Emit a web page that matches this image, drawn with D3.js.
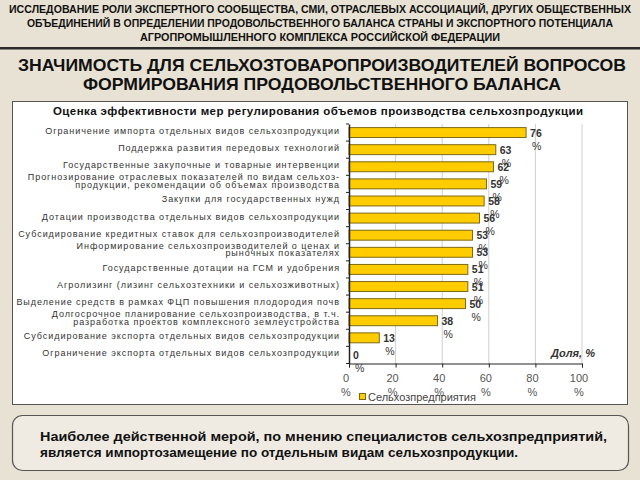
<!DOCTYPE html>
<html>
<head>
<meta charset="utf-8">
<script src="https://cdn.jsdelivr.net/npm/d3@7"></script>
<style>
  body { margin: 0; background: #e7e0d1; }
  svg { display: block; font-family: "Liberation Sans", Arial, sans-serif; }
</style>
</head>
<body>
<div id="chart"></div>
<script>
// chart data
var categories = [
  "Ограничение импорта отдельных видов сельхозпродукции",
  "Поддержка развития передовых технологий",
  "Государственные закупочные и товарные интервенции",
  "Прогнозирование отраслевых показателей по видам сельхоз-\nпродукции, рекомендации об объемах производства",
  "Закупки для государственных нужд",
  "Дотации производства отдельных видов сельхозпродукции",
  "Субсидирование кредитных ставок для сельхозпроизводителей",
  "Информирование сельхозпроизводителей о ценах и\nрыночных показателях",
  "Государственные дотации на ГСМ и удобрения",
  "Агролизинг (лизинг сельхозтехники и сельхозживотных)",
  "Выделение средств в рамках ФЦП повышения плодородия почв",
  "Долгосрочное планирование сельхозпроизводства, в т.ч.\nразработка проектов комплексного землеустройства",
  "Субсидирование экспорта отдельных видов сельхозпродукции",
  "Ограничение экспорта отдельных видов сельхозпродукции"
];
var values = [76, 63, 62, 59, 58, 56, 53, 53, 51, 51, 50, 38, 13, 0];
var xTicks = [0, 20, 40, 60, 80, 100];

var headerLines = [
  "ИССЛЕДОВАНИЕ РОЛИ ЭКСПЕРТНОГО СООБЩЕСТВА, СМИ, ОТРАСЛЕВЫХ АССОЦИАЦИЙ, ДРУГИХ ОБЩЕСТВЕННЫХ",
  "ОБЪЕДИНЕНИЙ В ОПРЕДЕЛЕНИИ ПРОДОВОЛЬСТВЕННОГО БАЛАНСА СТРАНЫ И ЭКСПОРТНОГО ПОТЕНЦИАЛА",
  "АГРОПРОМЫШЛЕННОГО КОМПЛЕКСА РОССИЙСКОЙ ФЕДЕРАЦИИ"
];
var titleLines = [
  "ЗНАЧИМОСТЬ ДЛЯ СЕЛЬХОЗТОВАРОПРОИЗВОДИТЕЛЕЙ ВОПРОСОВ",
  "ФОРМИРОВАНИЯ ПРОДОВОЛЬСТВЕННОГО БАЛАНСА"
];
var chartTitle = "Оценка эффективности мер регулирования объемов  производства сельхозпродукции";
var seriesName = "Сельхозпредприятия";
var axisName = "Доля, %";
var conclusion = [
  "Наиболее действенной мерой, по мнению специалистов сельхозпредприятий,",
  "является импортозамещение по отдельным видам сельхозпродукции."
];

var width = 640, height = 480;

var svg = d3.select("#chart").append("svg")
  .attr("width", width)
  .attr("height", height);

// background
svg.append("rect").attr("width", width).attr("height", height).attr("fill", "#e8e2d4");

// header block
var headerW = [622, 586, 360];
svg.selectAll(".hdr")
  .data(headerLines)
  .enter().append("text")
  .attr("class", "hdr")
  .attr("x", 320)
  .attr("y", function (d, i) { return 13 + i * 14; })
  .attr("text-anchor", "middle")
  .attr("font-size", 10.5)
  .attr("font-weight", "bold")
  .attr("fill", "#111")
  .attr("textLength", function (d, i) { return headerW[i]; })
  .attr("lengthAdjust", "spacingAndGlyphs")
  .text(function (d) { return d; });

svg.append("rect").attr("x", 0).attr("y", 47).attr("width", width).attr("height", 2.5).attr("fill", "#2b2b2b");

// slide title
var titleW = [608, 478];
svg.selectAll(".ttl")
  .data(titleLines)
  .enter().append("text")
  .attr("class", "ttl")
  .attr("x", 322)
  .attr("y", function (d, i) { return 71 + i * 19; })
  .attr("text-anchor", "middle")
  .attr("font-size", 17)
  .attr("font-weight", "bold")
  .attr("fill", "#111")
  .attr("textLength", function (d, i) { return titleW[i]; })
  .attr("lengthAdjust", "spacingAndGlyphs")
  .text(function (d) { return d; });

// white chart box
svg.append("rect")
  .attr("x", 12.5).attr("y", 101.5)
  .attr("width", 615).attr("height", 303)
  .attr("fill", "#fff")
  .attr("stroke", "#555").attr("stroke-width", 1);

svg.append("text")
  .attr("x", 318).attr("y", 114.5)
  .attr("text-anchor", "middle")
  .attr("font-size", 11.5)
  .attr("font-weight", "bold")
  .attr("fill", "#111")
  .attr("textLength", 530)
  .attr("lengthAdjust", "spacing")
  .text(chartTitle);

// scales
var x = d3.scaleLinear().domain([0, 100]).range([349, 582]);
var y = d3.scaleBand().domain(categories).range([124, 363.5]).paddingInner(0.42).paddingOuter(0.21);
var plotTop = 124, plotBottom = 363.5;

// gridlines
svg.append("g")
  .selectAll("line")
  .data(xTicks.slice(1))
  .enter().append("line")
  .attr("x1", function (d) { return x(d); })
  .attr("x2", function (d) { return x(d); })
  .attr("y1", plotTop)
  .attr("y2", plotBottom)
  .attr("stroke", "#cfcfcf")
  .attr("stroke-width", 1);

// bars
var rows = categories.map(function (c, i) { return { cat: c, val: values[i] }; });

svg.append("g")
  .selectAll("rect")
  .data(rows)
  .enter().append("rect")
  .attr("x", x(0))
  .attr("y", function (d) { return y(d.cat); })
  .attr("width", function (d) { return x(d.val) - x(0); })
  .attr("height", y.bandwidth())
  .attr("fill", "#ffcc00")
  .attr("stroke", "#7d6a12")
  .attr("stroke-width", 1);

// axes
var xAxis = svg.append("g")
  .attr("transform", "translate(0," + plotBottom + ")")
  .call(d3.axisBottom(x).tickValues(xTicks).tickSize(4).tickFormat(""));
xAxis.select(".domain").attr("stroke", "#222");
xAxis.selectAll(".tick line").attr("stroke", "#222");

var yAxis = svg.append("g")
  .attr("transform", "translate(" + x(0) + ",0)")
  .call(d3.axisLeft(y).tickSize(0).tickFormat(""));
yAxis.select(".domain").attr("stroke", "#222").attr("stroke-width", 1.5);

// y ticks sit between categories
svg.append("g")
  .selectAll("line")
  .data(d3.range(categories.length + 1))
  .enter().append("line")
  .attr("x1", x(0) - 3)
  .attr("x2", x(0))
  .attr("y1", function (i) { return plotTop + i * y.step(); })
  .attr("y2", function (i) { return plotTop + i * y.step(); })
  .attr("stroke", "#222");

// x tick labels: number, then % below
var xl = svg.append("g").selectAll("g")
  .data(xTicks)
  .enter().append("g")
  .attr("fill", "#555")
  .attr("font-size", 11)
  .attr("text-anchor", "middle");
xl.append("text")
  .attr("x", function (d) { return x(d) - 3; })
  .attr("y", 382)
  .text(function (d) { return d; });
xl.append("text")
  .attr("x", function (d) { return x(d) - 3; })
  .attr("y", 396)
  .text("%");

// category labels
var lab = svg.append("g")
  .selectAll("text")
  .data(categories)
  .enter().append("text")
  .attr("text-anchor", "end")
  .attr("font-size", 9)
  .attr("letter-spacing", 0.95)
  .attr("fill", "#333");
lab.each(function (c) {
  var parts = c.split("\n");
  var cy = y(c) + y.bandwidth() / 2;
  var t = d3.select(this);
  parts.forEach(function (p, j) {
    var dy = parts.length === 1 ? 1.5 : (j === 0 ? -3.5 : 4);
    t.append("tspan")
      .attr("x", 340)
      .attr("y", cy + dy)
      .text(p);
  });
});

// value labels
var vl = svg.append("g")
  .selectAll("g")
  .data(rows)
  .enter().append("g")
  .attr("font-size", 10.5)
  .attr("font-weight", "bold")
  .attr("fill", "#333");
vl.append("text")
  .attr("x", function (d) { return x(d.val) + 4; })
  .attr("y", function (d) { return y(d.cat) + y.bandwidth() / 2 + 4; })
  .text(function (d) { return d.val; });
vl.append("text")
  .attr("x", function (d) { return x(d.val) + 6; })
  .attr("y", function (d) { return y(d.cat) + y.bandwidth() / 2 + 17; })
  .attr("font-weight", "normal")
  .text("%");

// axis name
svg.append("text")
  .attr("x", 595).attr("y", 357)
  .attr("text-anchor", "end")
  .attr("font-size", 11)
  .attr("font-weight", "bold")
  .attr("font-style", "italic")
  .attr("fill", "#333")
  .text(axisName);

// legend
svg.append("rect")
  .attr("x", 359.5).attr("y", 393.5)
  .attr("width", 6).attr("height", 6)
  .attr("fill", "#ffcc00").attr("stroke", "#7d6a12");
svg.append("text")
  .attr("x", 368).attr("y", 401)
  .attr("font-size", 11)
  .attr("fill", "#444")
  .text(seriesName);

// conclusion box
svg.append("rect")
  .attr("x", 12.5).attr("y", 415.5)
  .attr("width", 616).attr("height", 55)
  .attr("rx", 10)
  .attr("fill", "#efebe2")
  .attr("stroke", "#555").attr("stroke-width", 1.2);

var concW = [567, 478];
svg.selectAll(".conc")
  .data(conclusion)
  .enter().append("text")
  .attr("class", "conc")
  .attr("x", 40)
  .attr("y", function (d, i) { return 441 + i * 16; })
  .attr("font-size", 13)
  .attr("font-weight", "bold")
  .attr("fill", "#111")
  .attr("textLength", function (d, i) { return concW[i]; })
  .attr("lengthAdjust", "spacingAndGlyphs")
  .text(function (d) { return d; });
</script>
</body>
</html>
